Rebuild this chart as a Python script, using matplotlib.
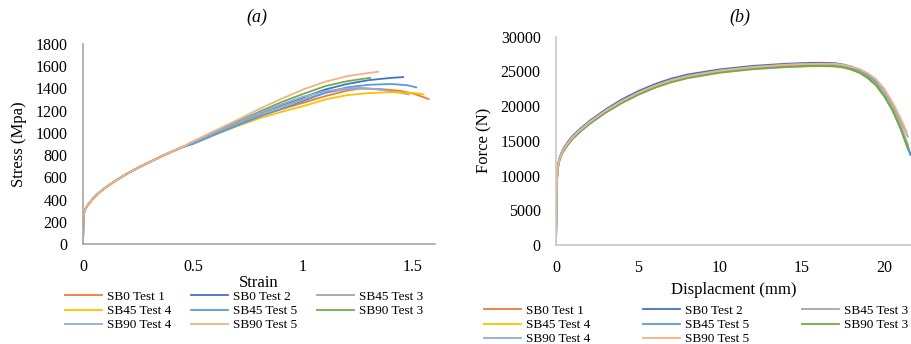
import matplotlib
matplotlib.use("Agg")
import matplotlib.pyplot as plt

plt.rcParams['font.family'] = ['Liberation Serif', 'DejaVu Serif']

labels = ["SB0 Test 1", "SB0 Test 2", "SB45 Test 3", "SB45 Test 4",
          "SB45 Test 5", "SB90 Test 3", "SB90 Test 4", "SB90 Test 5"]
colors = ["#ED7D31", "#4472C4", "#A5A5A5", "#FFC000",
          "#5B9BD5", "#70AD47", "#8FAADC", "#F4B183"]

# ---- (a) Stress - strain ----
strain_early = [0, 0.002, 0.006, 0.012, 0.02, 0.03, 0.05, 0.075, 0.1, 0.15, 0.2, 0.25, 0.3, 0.35, 0.4, 0.45]
stress_early = [0, 240, 290, 318, 345, 372, 418, 465, 505, 572, 632, 686, 735, 783, 828, 870]

strain_sb0_t1 = [0.5, 0.6, 0.7, 0.8, 0.9, 1.0, 1.1, 1.2, 1.26, 1.35, 1.44, 1.5, 1.571]
stress_sb0_t1 = [908, 993, 1075, 1150, 1212, 1270, 1330, 1380, 1400, 1395, 1379, 1355, 1305]
strain_sb0_t2 = [0.5, 0.6, 0.7, 0.8, 0.9, 1.0, 1.1, 1.2, 1.3, 1.4, 1.455]
stress_sb0_t2 = [912, 1000, 1085, 1170, 1245, 1318, 1390, 1440, 1475, 1495, 1502]
strain_sb45_t3 = [0.5, 0.6, 0.7, 0.8, 0.9, 1.0, 1.1, 1.2, 1.26, 1.35, 1.42, 1.48]
stress_sb45_t3 = [910, 997, 1080, 1165, 1235, 1300, 1360, 1395, 1404, 1390, 1370, 1347]
strain_sb45_t4 = [0.5, 0.6, 0.7, 0.8, 0.9, 1.0, 1.1, 1.2, 1.3, 1.4, 1.5, 1.548]
stress_sb45_t4 = [902, 983, 1060, 1130, 1188, 1240, 1300, 1340, 1358, 1366, 1360, 1347]
strain_sb45_t5 = [0.5, 0.6, 0.7, 0.8, 0.9, 1.0, 1.1, 1.2, 1.3, 1.4, 1.47, 1.515]
stress_sb45_t5 = [900, 985, 1065, 1145, 1215, 1285, 1360, 1410, 1433, 1440, 1430, 1410]
strain_sb90_t3 = [0.5, 0.6, 0.7, 0.8, 0.9, 1.0, 1.1, 1.2, 1.306]
stress_sb90_t3 = [918, 1010, 1100, 1190, 1275, 1350, 1420, 1465, 1496]
strain_sb90_t4 = [0.5, 0.6, 0.7, 0.8, 0.9, 1.0, 1.1, 1.2, 1.3, 1.378]
stress_sb90_t4 = [915, 1005, 1090, 1180, 1255, 1325, 1375, 1400, 1398, 1385]
strain_sb90_t5 = [0.5, 0.6, 0.7, 0.8, 0.9, 1.0, 1.1, 1.2, 1.3, 1.342]
stress_sb90_t5 = [925, 1020, 1115, 1215, 1305, 1390, 1460, 1510, 1540, 1550]

strain_late = [strain_sb0_t1, strain_sb0_t2, strain_sb45_t3, strain_sb45_t4,
               strain_sb45_t5, strain_sb90_t3, strain_sb90_t4, strain_sb90_t5]
stress_late = [stress_sb0_t1, stress_sb0_t2, stress_sb45_t3, stress_sb45_t4,
               stress_sb45_t5, stress_sb90_t3, stress_sb90_t4, stress_sb90_t5]

# ---- (b) Force - displacement ----
disp_grid = [0, 0.02, 0.05, 0.1, 0.2, 0.4, 0.7, 1.0, 1.5, 2, 3, 4, 5, 6, 7, 8,
             10, 12, 14, 15, 16, 17, 17.5, 18, 18.5, 19, 19.5, 20, 20.5, 21]
force_sb0_t1 = [0, 4000, 9000, 11000, 12300, 13500, 14550, 15450, 16550, 17550, 19250, 20650, 21800, 22800, 23600,
                24200, 25000, 25450, 25750, 25850, 25900, 25850, 25700, 25400, 24950, 24250, 23250, 21750, 19800, 17200]
force_sb0_t2 = [0, 4200, 9300, 11300, 12500, 13700, 14800, 15700, 16800, 17800, 19500, 20950, 22150, 23150, 23950,
                24550, 25300, 25800, 26100, 26200, 26250, 26200, 26000, 25700, 25200, 24450, 23400, 21800, 19700, 16900]
force_sb45_t3 = [0, 3900, 8900, 10900, 12200, 13450, 14500, 15400, 16500, 17500, 19200, 20600, 21800, 22800, 23600,
                 24200, 25000, 25500, 25800, 25900, 25950, 25900, 25750, 25450, 25000, 24300, 23300, 21800, 19850, 17300]
force_sb45_t4 = [0, 3800, 8800, 10800, 12100, 13300, 14350, 15250, 16350, 17350, 19000, 20400, 21600, 22600, 23400,
                 24000, 24800, 25300, 25600, 25700, 25750, 25700, 25550, 25250, 24800, 24100, 23100, 21600, 19600, 17000]
force_sb45_t5 = [0, 3900, 8800, 10800, 12100, 13300, 14350, 15250, 16350, 17350, 19050, 20450, 21650, 22650, 23450,
                 24050, 24850, 25350, 25650, 25750, 25800, 25750, 25600, 25300, 24850, 24100, 23050, 21500, 19450, 16800]
force_sb90_t3 = [0, 4000, 9000, 11000, 12250, 13400, 14450, 15350, 16450, 17450, 19100, 20500, 21700, 22700, 23500,
                 24100, 24900, 25400, 25700, 25750, 25800, 25750, 25600, 25300, 24800, 24050, 23000, 21450, 19450, 16800]
force_sb90_t4 = [0, 4100, 9100, 11100, 12350, 13550, 14600, 15550, 16650, 17650, 19350, 20750, 21950, 22950, 23750,
                 24350, 25150, 25650, 25950, 26050, 26100, 26050, 25900, 25650, 25250, 24650, 23750, 22350, 20300, 17900]
force_sb90_t5 = [0, 4000, 9000, 11000, 12300, 13500, 14600, 15500, 16600, 17600, 19300, 20700, 21900, 22900, 23700,
                 24300, 25100, 25600, 25950, 26050, 26100, 26100, 25950, 25700, 25350, 24750, 23900, 22550, 20600, 18300]
disp_end = [21.45, 21.6, 21.45, 21.5, 21.6, 21.45, 21.45, 21.38]
force_end = [14200, 13000, 14500, 14000, 13200, 13800, 15600, 16300]

forces = [force_sb0_t1, force_sb0_t2, force_sb45_t3, force_sb45_t4,
          force_sb45_t5, force_sb90_t3, force_sb90_t4, force_sb90_t5]

W, H = 912, 344
fig = plt.figure(figsize=(W / 100, H / 100), dpi=100)

ax1 = fig.add_axes([83 / W, 1 - 244 / H, 352 / W, 200 / H])
ax2 = fig.add_axes([556 / W, 1 - 245 / H, 356 / W, 208.3 / H])

lw = 1.3
lines = []
for i in range(8):
    xs = strain_early + strain_late[i]
    ys = stress_early + stress_late[i]
    ln, = ax1.plot(xs, ys, color=colors[i], lw=lw, label=labels[i])
    lines.append(ln)
    ax2.plot(disp_grid + [disp_end[i]], forces[i] + [force_end[i]],
             color=colors[i], lw=lw, label=labels[i])

ax1.set_xlim(0, 1.6)
ax1.set_ylim(0, 1800)
ax1.set_xticks([0, 0.5, 1, 1.5])
ax1.set_xticklabels(["0", "0.5", "1", "1.5"])
ax1.set_yticks(range(0, 1801, 200))
ax2.set_xlim(0, 21.7)
ax2.set_ylim(0, 30000)
ax2.set_xticks([0, 5, 10, 15, 20])
ax2.set_yticks(range(0, 30001, 5000))

for ax, sc in ((ax1, "#A6A6A6"), (ax2, "#C8C8C8")):
    for s in ("top", "right"):
        ax.spines[s].set_visible(False)
    for s in ("left", "bottom"):
        ax.spines[s].set_color(sc)
        ax.spines[s].set_linewidth(1.2)
    ax.tick_params(length=0, labelsize=11.5, pad=11)

ax1.set_xlabel("Strain", fontsize=12, labelpad=0)
ax1.set_ylabel("Stress (Mpa)", fontsize=12, labelpad=6)
ax2.set_xlabel("Displacment (mm)", fontsize=12, labelpad=4)
ax2.set_ylabel("Force (N)", fontsize=12, labelpad=6)

fig.text(257 / W, 1 - 17 / H, "(a)", fontsize=13, style="italic", ha="center", va="center")
fig.text(740 / W, 1 - 17 / H, "(b)", fontsize=13, style="italic", ha="center", va="center")

# legend filled row by row (matplotlib fills column by column)
order = [0, 3, 6, 1, 4, 7, 2, 5]
h_ord = [lines[k] for k in order]
l_ord = [labels[k] for k in order]

fig.legend(handles=h_ord, labels=l_ord, ncol=3, loc="center",
           bbox_to_anchor=(244 / W, 1 - 311 / H), frameon=False,
           fontsize=9.5, handlelength=2.8, handletextpad=0.4,
           columnspacing=1.5, labelspacing=0.16, borderpad=0, borderaxespad=0)
fig.legend(handles=h_ord, labels=l_ord, ncol=3, loc="center",
           bbox_to_anchor=(696 / W, 1 - 325 / H), frameon=False,
           fontsize=9.5, handlelength=2.8, handletextpad=0.4,
           columnspacing=4.0, labelspacing=0.16, borderpad=0, borderaxespad=0)

fig.savefig("out.png", dpi=100)
